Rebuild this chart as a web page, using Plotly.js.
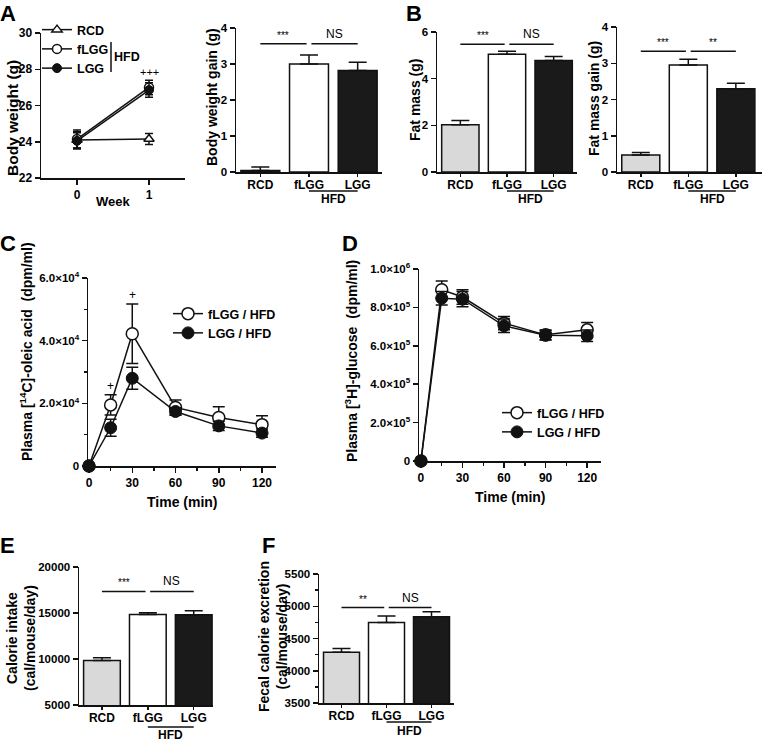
<!DOCTYPE html>
<html><head><meta charset="utf-8">
<script src="https://cdn.plot.ly/plotly-3.0.1.min.js"></script>
<style>html,body{margin:0;padding:0;background:#fff}#chart{width:762px;height:741px}</style>
</head><body><div id="chart"></div>
<script>
// ---------------- data ----------------
const groups = ['RCD', 'fLGG', 'LGG'];
const weeks = [0, 1];
const bwRCD = [24.1, 24.15];   const bwRCDErr = [0.45, 0.3];
const bwFLGG = [24.15, 27.0];  const bwFLGGErr = [0.5, 0.4];
const bwLGG = [24.05, 26.85];  const bwLGGErr = [0.45, 0.4];
const bwGain = [0.04, 3.0, 2.82];   const bwGainErr = [0.1, 0.25, 0.23];
const fatMass = [2.03, 5.05, 4.78]; const fatMassErr = [0.18, 0.13, 0.17];
const fatGain = [0.47, 2.95, 2.3];  const fatGainErr = [0.07, 0.16, 0.15];
const timeMin = [0, 15, 30, 60, 90, 120];
const oleicFLGG = [0, 19500, 42200, 18700, 15500, 13200];
const oleicFLGGErr = [0, 3200, 9500, 2400, 3400, 2800];
const oleicLGG = [0, 12200, 28000, 17400, 12800, 10500];
const oleicLGGErr = [0, 2700, 3500, 1200, 1500, 1300];
const glucFLGG = [0, 892000, 854000, 718000, 657000, 683000];
const glucFLGGErr = [0, 45000, 38000, 35000, 25000, 38000];
const glucLGG = [0, 848000, 843000, 704000, 655000, 652000];
const glucLGGErr = [0, 35000, 40000, 35000, 25000, 30000];
const calIntake = [9850, 14850, 14800]; const calIntakeErr = [280, 180, 440];
const fecalCal = [4285, 4748, 4838];    const fecalCalErr = [60, 100, 75];
// significance labels and bracket heights
const sigBwGain = ['***', 'NS'];   const sigBwGainY = 3.56;
const sigFatMass = ['***', 'NS'];  const sigFatMassY = 5.48;
const sigFatGain = ['***', '**'];  const sigFatGainY = 3.33;
const sigCal = ['***', 'NS'];      const sigCalY = 17345;
const sigFecal = ['**', 'NS'];     const sigFecalY = 4980;
const oleicPlusX = [15, 30]; const oleicPlusY = [25500, 54600];
const bwPlusX = [1]; const bwPlusY = [27.85];
const oleicTicks = [0, 20000, 40000, 60000];
const oleicTickText = ['0', '2.0×10<sup>4</sup>', '4.0×10<sup>4</sup>', '6.0×10<sup>4</sup>'];
const glucTicks = [0, 200000, 400000, 600000, 800000, 1000000];
const glucTickText = ['0', '2.0×10<sup>5</sup>', '4.0×10<sup>5</sup>', '6.0×10<sup>5</sup>', '8.0×10<sup>5</sup>', '1.0×10<sup>6</sup>'];

// ---------------- helpers ----------------
const W = 762, H = 741;
const FF = '"Liberation Sans", Arial, sans-serif';
const bold = (s) => ({family: FF, size: s, color: '#000', weight: 700});
const reg = (s) => ({family: FF, size: s, color: '#000', weight: 400});
const dx = (a, b) => [a / W, b / W];
const dy = (t, b) => [1 - b / H, 1 - t / H];
const px = (x) => x / W, py = (y) => 1 - y / H;
const barFill = ['#d9d9d9', '#ffffff', '#1a1a1a'];
const idx = groups.map((_, i) => i);

const traces = [];
const layout = {
  width: W, height: H, autosize: false,
  margin: {l: 0, r: 0, t: 0, b: 0},
  paper_bgcolor: '#fff', plot_bgcolor: 'rgba(0,0,0,0)',
  showlegend: true, font: bold(12),
  shapes: [], annotations: []
};

function axisBase(extra) {
  return Object.assign({
    showline: true, linecolor: '#111', linewidth: 1.5, mirror: false,
    ticks: 'outside', ticklen: 5, tickwidth: 1.5, tickcolor: '#111',
    showgrid: false, zeroline: false, tickfont: bold(11.5), fixedrange: true,
    tickformat: 'd', exponentformat: 'none'
  }, extra);
}

function barPanel(n, xd, yd, vals, errs, range, dtick, sig, sigY, hfdLineY, hfdTextY, rightExtra, minorY) {
  const xa = 'x' + n, ya = 'y' + n;
  traces.push({
    type: 'bar', x: idx, y: vals, width: 0.8, xaxis: xa, yaxis: ya, showlegend: false,
    marker: {color: barFill, line: {color: '#111', width: 1.5}},
    error_y: {type: 'data', symmetric: false, array: errs, arrayminus: vals.map(() => 0),
      color: '#111', thickness: 1.5, width: 9},
    cliponaxis: false
  });
  layout['xaxis' + n] = axisBase({domain: xd, anchor: ya, range: [-0.5, 2.5 + (rightExtra || 0)],
    tickvals: idx, ticktext: groups, ticklen: 3, ticklabelstandoff: -2, tickfont: bold(12)});
  const yax = axisBase({domain: yd, anchor: xa, range: range, dtick: dtick});
  if (minorY) yax.minor = {dtick: minorY, ticks: 'outside', ticklen: 3, tickwidth: 1.5, tickcolor: '#111'};
  layout['yaxis' + n] = yax;
  // significance brackets
  layout.shapes.push({type: 'line', xref: xa, yref: ya, x0: 0, x1: 0.95, y0: sigY, y1: sigY, line: {color: '#111', width: 1.5}});
  layout.shapes.push({type: 'line', xref: xa, yref: ya, x0: 1.05, x1: 2, y0: sigY, y1: sigY, line: {color: '#111', width: 1.5}});
  [0.475, 1.525].forEach((xx, k) => {
    layout.annotations.push({xref: xa, yref: ya, x: xx, y: sigY, yanchor: 'bottom', yshift: 1,
      text: sig[k], showarrow: false, font: sig[k] === 'NS' ? reg(12) : reg(10)});
  });
  // HFD group bar under fLGG & LGG
  layout.shapes.push({type: 'line', xref: xa, yref: 'paper', x0: 1, x1: 2, y0: py(hfdLineY), y1: py(hfdLineY), line: {color: '#111', width: 1.5}});
  layout.annotations.push({xref: xa, yref: 'paper', x: 1.5, y: py(hfdTextY), yanchor: 'middle', xanchor: 'center',
    text: 'HFD', showarrow: false, font: bold(12)});
}

function ytitle(text, x, y, size) {
  layout.annotations.push({xref: 'paper', yref: 'paper', x: px(x), y: py(y), text: text, textangle: -90,
    showarrow: false, font: bold(size || 14), xanchor: 'center', yanchor: 'middle'});
}
function label(text, x, y, font) {
  layout.annotations.push({xref: 'paper', yref: 'paper', x: px(x), y: py(y), text: text,
    showarrow: false, font: font, xanchor: 'center', yanchor: 'middle'});
}

// ---------------- Panel A: body weight line ----------------
const lineStyle = {color: '#111', width: 1.5};
const eb = (arr, w) => ({type: 'data', array: arr, color: '#111', thickness: 1.5, width: w});
traces.push({type: 'scatter', mode: 'lines+markers', name: 'RCD', x: weeks, y: bwRCD, xaxis: 'x1', yaxis: 'y1',
  line: lineStyle, marker: {symbol: 'triangle-up', size: 9, color: '#fff', line: {color: '#111', width: 1.5}},
  error_y: eb(bwRCDErr, 4), legend: 'legend', cliponaxis: false});
traces.push({type: 'scatter', mode: 'lines+markers', name: 'fLGG', x: weeks, y: bwFLGG, xaxis: 'x1', yaxis: 'y1',
  line: lineStyle, marker: {symbol: 'circle', size: 9, color: '#fff', line: {color: '#111', width: 1.5}},
  error_y: eb(bwFLGGErr, 4), legend: 'legend', cliponaxis: false});
traces.push({type: 'scatter', mode: 'lines+markers', name: 'LGG', x: weeks, y: bwLGG, xaxis: 'x1', yaxis: 'y1',
  line: lineStyle, marker: {symbol: 'circle', size: 9, color: '#111', line: {color: '#111', width: 1}},
  error_y: eb(bwLGGErr, 4), legend: 'legend', cliponaxis: false});
layout.xaxis1 = axisBase({domain: dx(41, 185), anchor: 'y1', range: [-0.5, 1.5], tickvals: weeks, ticktext: weeks.map(String), tickfont: bold(12)});
layout.yaxis1 = axisBase({domain: dy(33, 178), anchor: 'x1', range: [22, 30], dtick: 2, tickfont: bold(12)});
layout.legend = {x: px(37), y: py(15), xanchor: 'left', yanchor: 'top', font: bold(12.5),
  bgcolor: 'rgba(0,0,0,0)', borderwidth: 0, tracegroupgap: 0};
layout.shapes.push({type: 'line', xref: 'paper', yref: 'paper', x0: px(111), x1: px(111), y0: py(42), y1: py(72), line: {color: '#111', width: 1.5}});
label('HFD', 127, 57, bold(12.5));
bwPlusX.forEach((x, i) => layout.annotations.push({xref: 'x1', yref: 'y1', x: x, y: bwPlusY[i], text: '+++', showarrow: false, font: reg(11)}));
ytitle('Body weight (g)', 13, 118, 15.5);
label('Week', 113, 201, bold(13));

// ---------------- Bar panels ----------------
barPanel(2, dx(236, 382), dy(28, 172), bwGain, bwGainErr, [0, 4], 1, sigBwGain, sigBwGainY, 191, 199);
ytitle('Body weight gain (g)', 212, 97);
barPanel(3, dx(437, 577), dy(32, 172), fatMass, fatMassErr, [0, 6], 2, sigFatMass, sigFatMassY, 191, 199);
ytitle('Fat mass (g)', 415, 100);
barPanel(4, dx(617, 762), dy(27, 172), fatGain, fatGainErr, [0, 4], 1, sigFatGain, sigFatGainY, 191, 199, 0.05);
ytitle('Fat mass gain (g)', 594, 99);
barPanel(7, dx(79, 213), dy(567, 705), calIntake, calIntakeErr, [5000, 20000], 5000, sigCal, sigCalY, 727, 735, -0.08);
ytitle('Calorie intake<br>(cal/mouse/day)', 21, 638, 14);
barPanel(8, dx(319, 454), dy(574, 703), fecalCal, fecalCalErr, [3500, 5500], 500, sigFecal, sigFecalY, 722, 731, 0, 250);
ytitle('Fecal calorie excretion<br>(cal/mouse/day)', 273, 637, 14);

// ---------------- Panel C ----------------
traces.push({type: 'scatter', mode: 'lines+markers', name: 'fLGG / HFD', x: timeMin, y: oleicFLGG, xaxis: 'x5', yaxis: 'y5',
  line: lineStyle, marker: {symbol: 'circle', size: 12, color: '#fff', line: {color: '#111', width: 1.5}},
  error_y: eb(oleicFLGGErr, 6), legend: 'legend2', cliponaxis: false});
traces.push({type: 'scatter', mode: 'lines+markers', name: 'LGG / HFD', x: timeMin, y: oleicLGG, xaxis: 'x5', yaxis: 'y5',
  line: lineStyle, marker: {symbol: 'circle', size: 12, color: '#111', line: {color: '#111', width: 1}},
  error_y: eb(oleicLGGErr, 6), legend: 'legend2', cliponaxis: false});
layout.xaxis5 = axisBase({domain: dx(88, 276), anchor: 'y5', range: [-0.7, 129.7], tickvals: [0, 30, 60, 90, 120], tickfont: bold(12),
  minor: {dtick: 15, tick0: 0, ticks: 'outside', ticklen: 3, tickwidth: 1.5, tickcolor: '#111'}});
layout.yaxis5 = axisBase({domain: dy(278, 466), anchor: 'x5', range: [0, 60000], tickvals: oleicTicks, ticktext: oleicTickText,
  minor: {dtick: 10000, tick0: 0, ticks: 'outside', ticklen: 3, tickwidth: 1.5, tickcolor: '#111'}});
layout.legend2 = {x: px(168), y: py(299), xanchor: 'left', yanchor: 'top', font: bold(12.5), bgcolor: 'rgba(0,0,0,0)'};
oleicPlusX.forEach((x, i) => layout.annotations.push({xref: 'x5', yref: 'y5', x: x, y: oleicPlusY[i], text: '+', showarrow: false, font: reg(12)}));
ytitle('Plasma [<sup>14</sup>C]-oleic acid  (dpm/ml)', 26, 352);
label('Time (min)', 182, 502, bold(14));

// ---------------- Panel D ----------------
traces.push({type: 'scatter', mode: 'lines+markers', name: 'fLGG / HFD', x: timeMin, y: glucFLGG, xaxis: 'x6', yaxis: 'y6',
  line: lineStyle, marker: {symbol: 'circle', size: 12, color: '#fff', line: {color: '#111', width: 1.5}},
  error_y: eb(glucFLGGErr, 6), legend: 'legend3', cliponaxis: false});
traces.push({type: 'scatter', mode: 'lines+markers', name: 'LGG / HFD', x: timeMin, y: glucLGG, xaxis: 'x6', yaxis: 'y6',
  line: lineStyle, marker: {symbol: 'circle', size: 12, color: '#111', line: {color: '#111', width: 1}},
  error_y: eb(glucLGGErr, 6), legend: 'legend3', cliponaxis: false});
layout.xaxis6 = axisBase({domain: dx(419, 601), anchor: 'y6', range: [-1.4, 130], tickvals: [0, 30, 60, 90, 120], tickfont: bold(12),
  minor: {dtick: 15, tick0: 0, ticks: 'outside', ticklen: 3, tickwidth: 1.5, tickcolor: '#111'}});
layout.yaxis6 = axisBase({domain: dy(269, 461), anchor: 'x6', range: [0, 1000000], tickvals: glucTicks, ticktext: glucTickText});
layout.legend3 = {x: px(497), y: py(398), xanchor: 'left', yanchor: 'top', font: bold(12.5), bgcolor: 'rgba(0,0,0,0)'};
ytitle('Plasma [<sup>3</sup>H]-glucose  (dpm/ml)', 351, 361);
label('Time (min)', 511, 497, bold(14));

// ---------------- Panel letters ----------------
const L = bold(22);
label('A', 8, 13, L); label('B', 414, 13, L); label('C', 8, 243, L);
label('D', 350, 243, L); label('E', 7, 545, L); label('F', 268, 545, L);

Plotly.newPlot('chart', traces, layout, {displayModeBar: false, staticPlot: true});
</script>
</body></html>
